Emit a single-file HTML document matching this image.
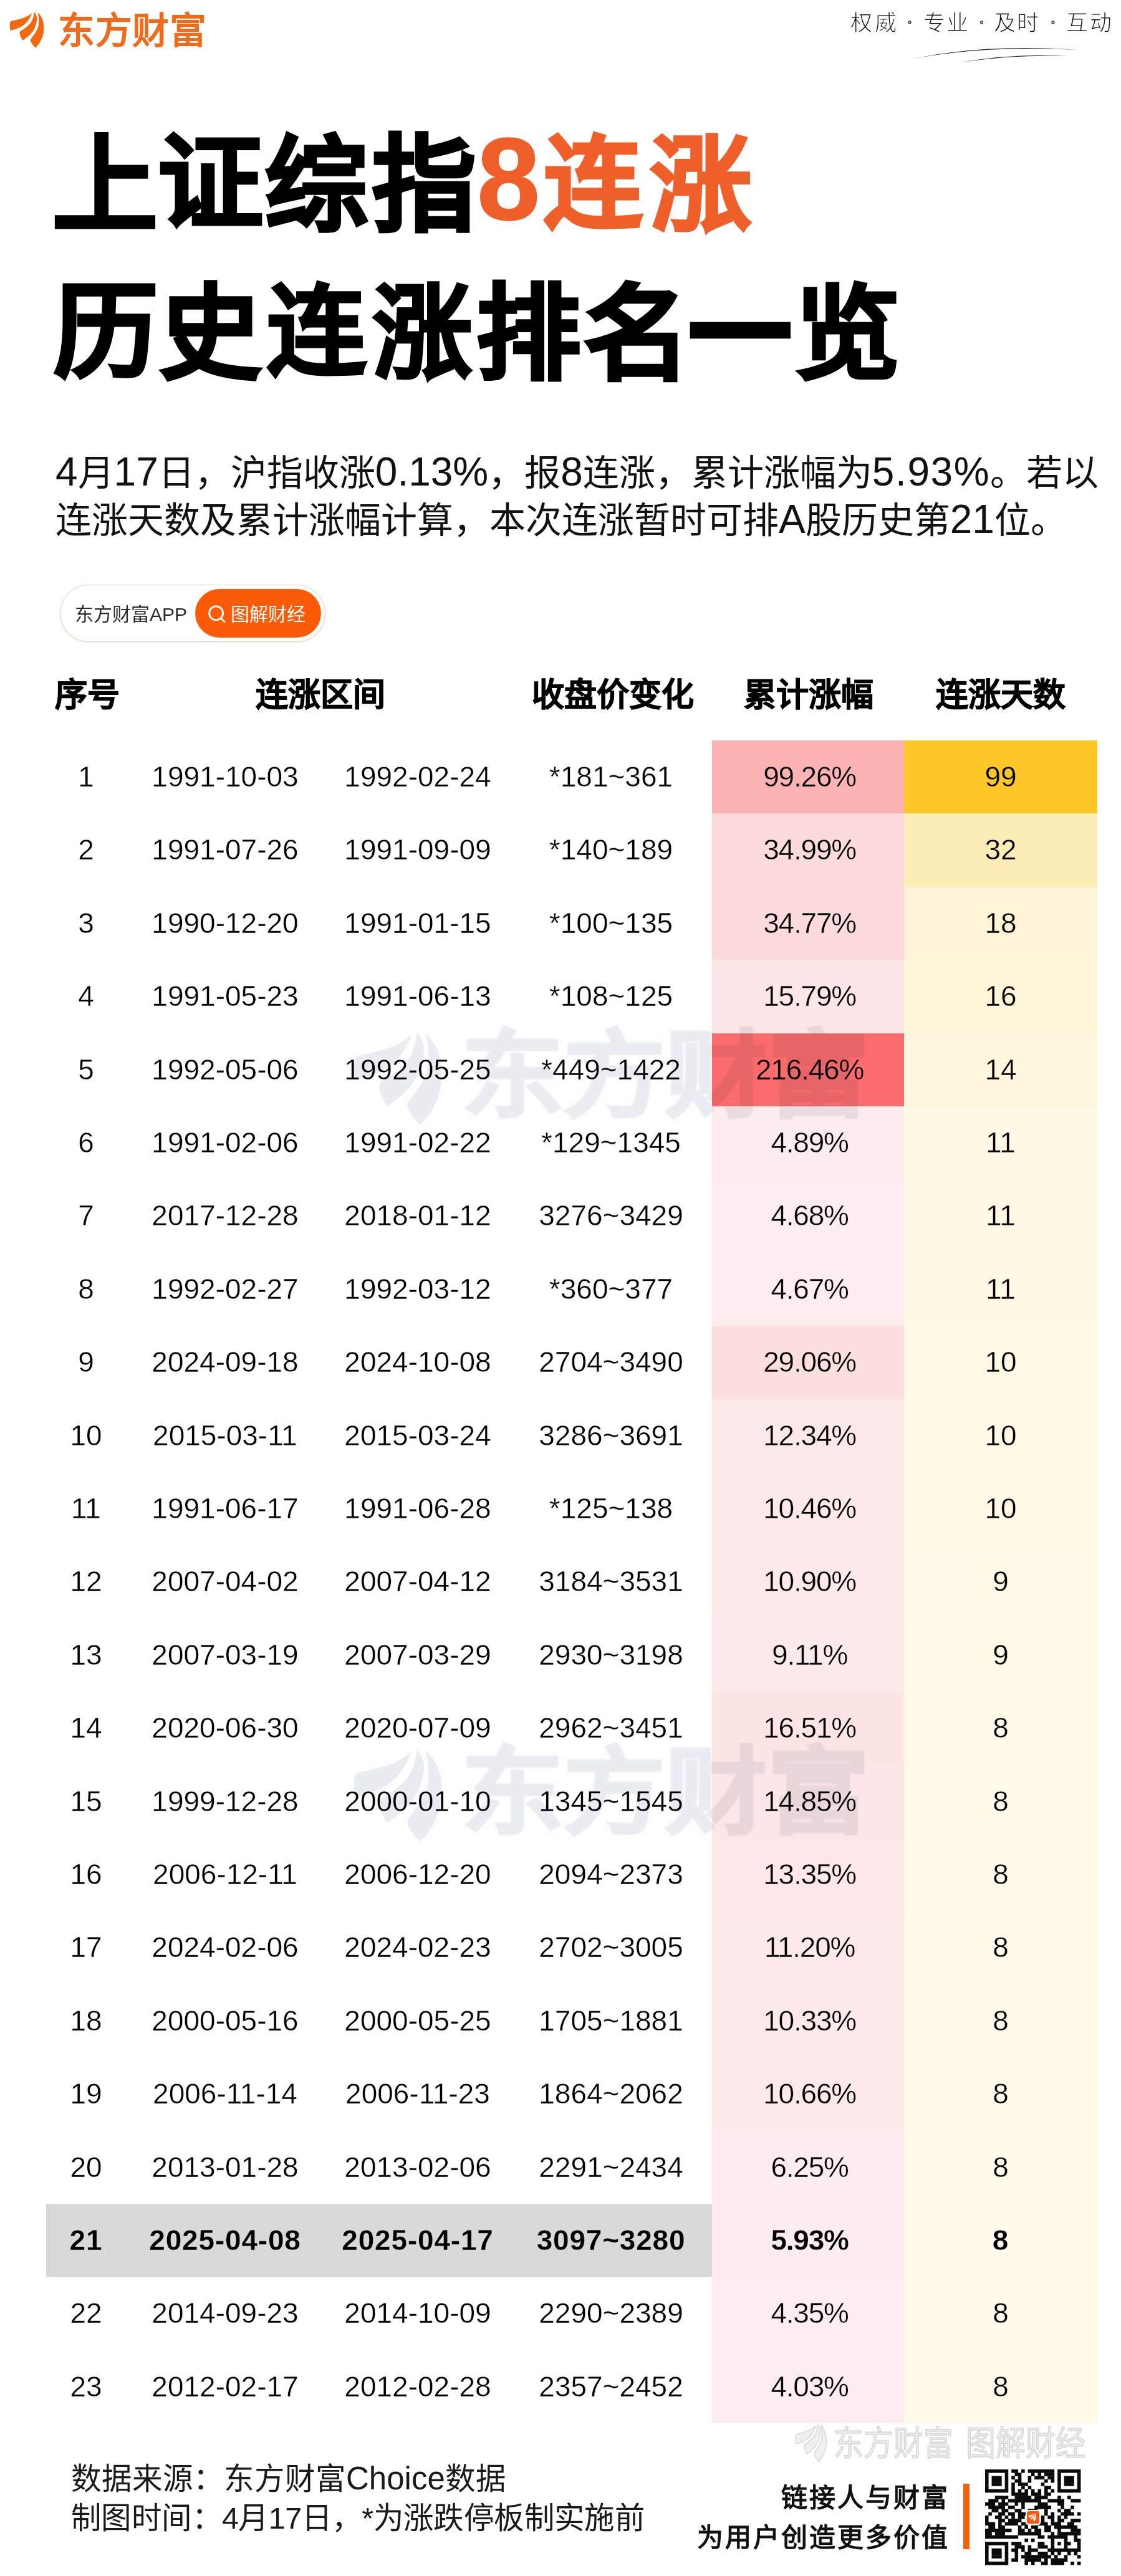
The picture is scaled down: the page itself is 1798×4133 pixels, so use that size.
<!DOCTYPE html>
<html lang="zh-CN"><head><meta charset="utf-8">
<style>
*{margin:0;padding:0;box-sizing:border-box}
html,body{width:1798px;height:4133px;overflow:hidden;background:#fefefe}
body{position:relative;font-family:"Liberation Sans",sans-serif;color:#111}
.abs{position:absolute;white-space:nowrap}
.g{position:absolute;transform-origin:0 0;font-size:100px;line-height:100px;font-weight:700;white-space:nowrap}
.para{position:absolute;left:89px;top:721px;font-size:58px;line-height:76px;color:#111;white-space:nowrap}
.para .l{font-size:64px;line-height:10px}
.hdr{position:absolute;top:1085px;font-size:52px;font-weight:700;line-height:60px;width:400px;text-align:center;-webkit-text-stroke:1px #000;color:#000}
.row{position:absolute;left:0;width:1798px;height:117.4px}
.row .pk{position:absolute;left:1142px;width:308px;top:0;height:100%}
.row .yl{position:absolute;left:1450px;width:310px;top:0;height:100%}
.row .gray{position:absolute;left:74px;width:1068px;top:0;height:100%;background:#d9d9d9}
.row .c{position:absolute;top:0;width:300px;text-align:center;line-height:117.4px;font-size:46px;color:#000}
.row.b .c{font-weight:700;letter-spacing:0.8px}
.sl{position:absolute;top:15px;font-size:35px;line-height:44px;color:#1a1a1a;width:50px;text-align:center;-webkit-text-stroke:1px #fefefe}
.wm{position:absolute;font-size:160px;line-height:160px;font-weight:700;color:#eaeef2;-webkit-text-stroke:4px #eaeef2;mix-blend-mode:multiply;transform:scale(1.02,0.95);transform-origin:0 0;white-space:nowrap;filter:blur(1.2px)}
</style></head><body>
<svg width="0" height="0" style="position:absolute">
<defs>
<g id="petals">
<path d="M41.4,10.7 C38,20 33,27 27,31 C21,35 12,38 6.8,38.9 C5.5,36 5.5,28 6.4,25.7 C7,24 8,23.8 9.3,23.6 C16,22 26,20 32,17 C36,15 39,13 41.4,10.7 Z"/>
<path d="M45,8.9 C48,13 49.5,17 49.3,21 C49,28 46,35 42.8,40 C39,46 32,51 26.4,55 C24,51 21.5,46 21.4,43 C21.5,41 22.5,40 23.6,39.3 C29,36 35,32 39,27 C42.5,22 44.5,15 45,8.9 Z"/>
<path d="M50.3,10 C55,14 58.5,20 59.5,26 C61,34 60.5,42 58.5,48 C56.5,55 51,63 47.1,66.7 C43,63 39.5,58 38.9,55 C39,53 40,51.5 41.4,50 C45,45 49,40 51,34 C53,27 52.5,17 50.3,10 Z"/>
</g>
</defs>
</svg>
<!-- logo -->
<svg class="abs" style="left:10px;top:10px" width="80" height="80" viewBox="0 0 80 80"><g fill="#f2680f"><use href="#petals"/></g></svg>
<div class="abs" style="left:93px;top:15px;font-size:59px;font-weight:700;color:#f06a1c;line-height:70px;letter-spacing:0.5px">东方财富</div>

<!-- slogan -->
<div class="sl" style="left:1356.0px">权</div>
<div class="sl" style="left:1395.0px">威</div>
<div class="sl" style="left:1473.0px">专</div>
<div class="sl" style="left:1510.0px">业</div>
<div class="sl" style="left:1586.5px">及</div>
<div class="sl" style="left:1623.5px">时</div>
<div class="sl" style="left:1702.5px">互</div>
<div class="sl" style="left:1740.5px">动</div>
<svg class="abs" style="left:1440px;top:26px" width="260" height="20" viewBox="0 0 260 20"><g stroke="#222" stroke-width="1.3" fill="none"><circle cx="19" cy="9.8" r="1.9"/><circle cx="134.6" cy="9.8" r="1.9"/><circle cx="249" cy="9.8" r="1.9"/></g></svg>
<svg class="abs" style="left:1440px;top:66px" width="320" height="44" viewBox="0 0 320 44">
<path d="M25,28 Q140,4 290,14 Q140,6.5 25,28 Z" fill="#222"/>
<path d="M100,34 Q190,19 270,24 Q190,21.5 100,34 Z" fill="#222"/>
</svg>

<div class="g" style="left:83.6px;top:212.7px;transform:scale(1.6875,1.6957);color:#000;-webkit-text-stroke:2.5px #000">上</div>
<div class="g" style="left:252.6px;top:211.0px;transform:scale(1.6907,1.6421);color:#000;-webkit-text-stroke:2.5px #000">证</div>
<div class="g" style="left:425.0px;top:215.0px;transform:scale(1.6500,1.6566);color:#000;-webkit-text-stroke:2.5px #000">综</div>
<div class="g" style="left:597.0px;top:213.4px;transform:scale(1.6633,1.6837);color:#000;-webkit-text-stroke:2.5px #000">指</div>
<div class="g" style="left:764.5px;top:192.9px;transform:scale(1.8200,1.8732);color:#ee5f29;-webkit-text-stroke:0.8px #ee5f29">8</div>
<div class="g" style="left:872.0px;top:214.8px;transform:scale(1.5784,1.6139);color:#ee5f29;-webkit-text-stroke:2.5px #ee5f29">连</div>
<div class="g" style="left:1042.6px;top:214.6px;transform:scale(1.6176,1.6465);color:#ee5f29;-webkit-text-stroke:2.5px #ee5f29">涨</div>
<div class="g" style="left:86.0px;top:450.0px;transform:scale(1.6735,1.6632);color:#000;-webkit-text-stroke:2.5px #000">历</div>
<div class="g" style="left:256.0px;top:452.3px;transform:scale(1.6275,1.6633);color:#000;-webkit-text-stroke:2.5px #000">史</div>
<div class="g" style="left:428.0px;top:453.7px;transform:scale(1.5882,1.5743);color:#000;-webkit-text-stroke:2.5px #000">连</div>
<div class="g" style="left:597.6px;top:452.6px;transform:scale(1.5882,1.6364);color:#000;-webkit-text-stroke:2.5px #000">涨</div>
<div class="g" style="left:764.3px;top:452.3px;transform:scale(1.6735,1.6735);color:#000;-webkit-text-stroke:2.5px #000">排</div>
<div class="g" style="left:936.0px;top:453.0px;transform:scale(1.7159,1.6667);color:#000;-webkit-text-stroke:2.5px #000">名</div>
<div class="g" style="left:1103.7px;top:440.8px;transform:scale(1.6598,1.9286);color:#000;-webkit-text-stroke:2.5px #000">一</div>
<div class="g" style="left:1274.3px;top:453.9px;transform:scale(1.6979,1.6400);color:#000;-webkit-text-stroke:2.5px #000">览</div>

<div class="para"><span class="l">4</span>月<span class="l">17</span>日，沪指收涨<span class="l">0.13%</span>，报<span class="l">8</span>连涨，累计涨幅为<span class="l" style="letter-spacing:1.6px">5.93%</span>。若以<br>连涨天数及累计涨幅计算，本次连涨暂时可排<span class="l">A</span>股历史第<span class="l">21</span>位。</div>

<!-- pill -->
<div class="abs" style="left:96px;top:938px;width:426px;height:92px;border-radius:46px;border:1.5px solid #e6d3bd;background:#fff;box-shadow:0 1px 3px rgba(200,170,140,0.25)"></div>
<div class="abs" style="left:120px;top:964px;font-size:30px;line-height:44px;color:#2a2a2a">东方财富APP</div>
<div class="abs" style="left:313px;top:945px;width:202px;height:78px;border-radius:39px;background:#fb5a06"></div>
<svg class="abs" style="left:331px;top:968px" width="32" height="32" viewBox="0 0 32 32"><circle cx="15.6" cy="15.7" r="11" stroke="#fff" stroke-width="2.9" fill="none"/><path d="M23.6 23.8 L29 29.6" stroke="#fff" stroke-width="2.7" stroke-linecap="round"/></svg>
<div class="abs" style="left:370px;top:964px;font-size:30px;line-height:44px;color:#fff">图解财经</div>

<div class="hdr" style="left:-60px">序号</div>
<div class="hdr" style="left:314px">连涨区间</div>
<div class="hdr" style="left:783px">收盘价变化</div>
<div class="hdr" style="left:1097px">累计涨幅</div>
<div class="hdr" style="left:1405px">连涨天数</div>

<div class="row" style="top:1188.0px">
<div class="pk" style="background:#fdb3b4"></div><div class="yl" style="background:#fdc72a"></div>
<span class="c" style="left:-12.0px;-webkit-text-stroke:0.4px #fefefe">1</span>
<span class="c" style="left:211.0px;-webkit-text-stroke:0.4px #fefefe">1991-10-03</span>
<span class="c" style="left:520.0px;-webkit-text-stroke:0.4px #fefefe">1992-02-24</span>
<span class="c" style="left:830.0px;-webkit-text-stroke:0.4px #fefefe">*181~361</span>
<span class="c" style="left:1148.6px;-webkit-text-stroke:0.4px #fdb3b4;letter-spacing:-1.2px">99.26%</span>
<span class="c" style="left:1455.0px;-webkit-text-stroke:0.4px #fdc72a">99</span>
</div>
<div class="row" style="top:1305.4px">
<div class="pk" style="background:#fddadb"></div><div class="yl" style="background:#feedb7"></div>
<span class="c" style="left:-12.0px;-webkit-text-stroke:0.4px #fefefe">2</span>
<span class="c" style="left:211.0px;-webkit-text-stroke:0.4px #fefefe">1991-07-26</span>
<span class="c" style="left:520.0px;-webkit-text-stroke:0.4px #fefefe">1991-09-09</span>
<span class="c" style="left:830.0px;-webkit-text-stroke:0.4px #fefefe">*140~189</span>
<span class="c" style="left:1148.6px;-webkit-text-stroke:0.4px #fddadb;letter-spacing:-1.2px">34.99%</span>
<span class="c" style="left:1455.0px;-webkit-text-stroke:0.4px #feedb7">32</span>
</div>
<div class="row" style="top:1422.8px">
<div class="pk" style="background:#fddadb"></div><div class="yl" style="background:#fff4d5"></div>
<span class="c" style="left:-12.0px;-webkit-text-stroke:0.4px #fefefe">3</span>
<span class="c" style="left:211.0px;-webkit-text-stroke:0.4px #fefefe">1990-12-20</span>
<span class="c" style="left:520.0px;-webkit-text-stroke:0.4px #fefefe">1991-01-15</span>
<span class="c" style="left:830.0px;-webkit-text-stroke:0.4px #fefefe">*100~135</span>
<span class="c" style="left:1148.6px;-webkit-text-stroke:0.4px #fddadb;letter-spacing:-1.2px">34.77%</span>
<span class="c" style="left:1455.0px;-webkit-text-stroke:0.4px #fff4d5">18</span>
</div>
<div class="row" style="top:1540.2px">
<div class="pk" style="background:#fde6e7"></div><div class="yl" style="background:#fff6d9"></div>
<span class="c" style="left:-12.0px;-webkit-text-stroke:0.4px #fefefe">4</span>
<span class="c" style="left:211.0px;-webkit-text-stroke:0.4px #fefefe">1991-05-23</span>
<span class="c" style="left:520.0px;-webkit-text-stroke:0.4px #fefefe">1991-06-13</span>
<span class="c" style="left:830.0px;-webkit-text-stroke:0.4px #fefefe">*108~125</span>
<span class="c" style="left:1148.6px;-webkit-text-stroke:0.4px #fde6e7;letter-spacing:-1.2px">15.79%</span>
<span class="c" style="left:1455.0px;-webkit-text-stroke:0.4px #fff6d9">16</span>
</div>
<div class="row" style="top:1657.6px">
<div class="pk" style="background:#fc6c6c"></div><div class="yl" style="background:#fff7dd"></div>
<span class="c" style="left:-12.0px;-webkit-text-stroke:0.4px #fefefe">5</span>
<span class="c" style="left:211.0px;-webkit-text-stroke:0.4px #fefefe">1992-05-06</span>
<span class="c" style="left:520.0px;-webkit-text-stroke:0.4px #fefefe">1992-05-25</span>
<span class="c" style="left:830.0px;-webkit-text-stroke:0.4px #fefefe">*449~1422</span>
<span class="c" style="left:1148.6px;-webkit-text-stroke:0.4px #fc6c6c;letter-spacing:-1.2px">216.46%</span>
<span class="c" style="left:1455.0px;-webkit-text-stroke:0.4px #fff7dd">14</span>
</div>
<div class="row" style="top:1775.0px">
<div class="pk" style="background:#fdeced"></div><div class="yl" style="background:#fff8e4"></div>
<span class="c" style="left:-12.0px;-webkit-text-stroke:0.4px #fefefe">6</span>
<span class="c" style="left:211.0px;-webkit-text-stroke:0.4px #fefefe">1991-02-06</span>
<span class="c" style="left:520.0px;-webkit-text-stroke:0.4px #fefefe">1991-02-22</span>
<span class="c" style="left:830.0px;-webkit-text-stroke:0.4px #fefefe">*129~1345</span>
<span class="c" style="left:1148.6px;-webkit-text-stroke:0.4px #fdeced;letter-spacing:-1.2px">4.89%</span>
<span class="c" style="left:1455.0px;-webkit-text-stroke:0.4px #fff8e4">11</span>
</div>
<div class="row" style="top:1892.4px">
<div class="pk" style="background:#fdedee"></div><div class="yl" style="background:#fff8e4"></div>
<span class="c" style="left:-12.0px;-webkit-text-stroke:0.4px #fefefe">7</span>
<span class="c" style="left:211.0px;-webkit-text-stroke:0.4px #fefefe">2017-12-28</span>
<span class="c" style="left:520.0px;-webkit-text-stroke:0.4px #fefefe">2018-01-12</span>
<span class="c" style="left:830.0px;-webkit-text-stroke:0.4px #fefefe">3276~3429</span>
<span class="c" style="left:1148.6px;-webkit-text-stroke:0.4px #fdedee;letter-spacing:-1.2px">4.68%</span>
<span class="c" style="left:1455.0px;-webkit-text-stroke:0.4px #fff8e4">11</span>
</div>
<div class="row" style="top:2009.8px">
<div class="pk" style="background:#fdedee"></div><div class="yl" style="background:#fff8e4"></div>
<span class="c" style="left:-12.0px;-webkit-text-stroke:0.4px #fefefe">8</span>
<span class="c" style="left:211.0px;-webkit-text-stroke:0.4px #fefefe">1992-02-27</span>
<span class="c" style="left:520.0px;-webkit-text-stroke:0.4px #fefefe">1992-03-12</span>
<span class="c" style="left:830.0px;-webkit-text-stroke:0.4px #fefefe">*360~377</span>
<span class="c" style="left:1148.6px;-webkit-text-stroke:0.4px #fdedee;letter-spacing:-1.2px">4.67%</span>
<span class="c" style="left:1455.0px;-webkit-text-stroke:0.4px #fff8e4">11</span>
</div>
<div class="row" style="top:2127.2px">
<div class="pk" style="background:#fddedf"></div><div class="yl" style="background:#fff9e6"></div>
<span class="c" style="left:-12.0px;-webkit-text-stroke:0.4px #fefefe">9</span>
<span class="c" style="left:211.0px;-webkit-text-stroke:0.4px #fefefe">2024-09-18</span>
<span class="c" style="left:520.0px;-webkit-text-stroke:0.4px #fefefe">2024-10-08</span>
<span class="c" style="left:830.0px;-webkit-text-stroke:0.4px #fefefe">2704~3490</span>
<span class="c" style="left:1148.6px;-webkit-text-stroke:0.4px #fddedf;letter-spacing:-1.2px">29.06%</span>
<span class="c" style="left:1455.0px;-webkit-text-stroke:0.4px #fff9e6">10</span>
</div>
<div class="row" style="top:2244.6px">
<div class="pk" style="background:#fde8e9"></div><div class="yl" style="background:#fff9e6"></div>
<span class="c" style="left:-12.0px;-webkit-text-stroke:0.4px #fefefe">10</span>
<span class="c" style="left:211.0px;-webkit-text-stroke:0.4px #fefefe">2015-03-11</span>
<span class="c" style="left:520.0px;-webkit-text-stroke:0.4px #fefefe">2015-03-24</span>
<span class="c" style="left:830.0px;-webkit-text-stroke:0.4px #fefefe">3286~3691</span>
<span class="c" style="left:1148.6px;-webkit-text-stroke:0.4px #fde8e9;letter-spacing:-1.2px">12.34%</span>
<span class="c" style="left:1455.0px;-webkit-text-stroke:0.4px #fff9e6">10</span>
</div>
<div class="row" style="top:2362.0px">
<div class="pk" style="background:#fde9ea"></div><div class="yl" style="background:#fff9e6"></div>
<span class="c" style="left:-12.0px;-webkit-text-stroke:0.4px #fefefe">11</span>
<span class="c" style="left:211.0px;-webkit-text-stroke:0.4px #fefefe">1991-06-17</span>
<span class="c" style="left:520.0px;-webkit-text-stroke:0.4px #fefefe">1991-06-28</span>
<span class="c" style="left:830.0px;-webkit-text-stroke:0.4px #fefefe">*125~138</span>
<span class="c" style="left:1148.6px;-webkit-text-stroke:0.4px #fde9ea;letter-spacing:-1.2px">10.46%</span>
<span class="c" style="left:1455.0px;-webkit-text-stroke:0.4px #fff9e6">10</span>
</div>
<div class="row" style="top:2479.4px">
<div class="pk" style="background:#fde9ea"></div><div class="yl" style="background:#fff9e8"></div>
<span class="c" style="left:-12.0px;-webkit-text-stroke:0.4px #fefefe">12</span>
<span class="c" style="left:211.0px;-webkit-text-stroke:0.4px #fefefe">2007-04-02</span>
<span class="c" style="left:520.0px;-webkit-text-stroke:0.4px #fefefe">2007-04-12</span>
<span class="c" style="left:830.0px;-webkit-text-stroke:0.4px #fefefe">3184~3531</span>
<span class="c" style="left:1148.6px;-webkit-text-stroke:0.4px #fde9ea;letter-spacing:-1.2px">10.90%</span>
<span class="c" style="left:1455.0px;-webkit-text-stroke:0.4px #fff9e8">9</span>
</div>
<div class="row" style="top:2596.8px">
<div class="pk" style="background:#fdeaeb"></div><div class="yl" style="background:#fff9e8"></div>
<span class="c" style="left:-12.0px;-webkit-text-stroke:0.4px #fefefe">13</span>
<span class="c" style="left:211.0px;-webkit-text-stroke:0.4px #fefefe">2007-03-19</span>
<span class="c" style="left:520.0px;-webkit-text-stroke:0.4px #fefefe">2007-03-29</span>
<span class="c" style="left:830.0px;-webkit-text-stroke:0.4px #fefefe">2930~3198</span>
<span class="c" style="left:1148.6px;-webkit-text-stroke:0.4px #fdeaeb;letter-spacing:-1.2px">9.11%</span>
<span class="c" style="left:1455.0px;-webkit-text-stroke:0.4px #fff9e8">9</span>
</div>
<div class="row" style="top:2714.2px">
<div class="pk" style="background:#fde5e6"></div><div class="yl" style="background:#fffaea"></div>
<span class="c" style="left:-12.0px;-webkit-text-stroke:0.4px #fefefe">14</span>
<span class="c" style="left:211.0px;-webkit-text-stroke:0.4px #fefefe">2020-06-30</span>
<span class="c" style="left:520.0px;-webkit-text-stroke:0.4px #fefefe">2020-07-09</span>
<span class="c" style="left:830.0px;-webkit-text-stroke:0.4px #fefefe">2962~3451</span>
<span class="c" style="left:1148.6px;-webkit-text-stroke:0.4px #fde5e6;letter-spacing:-1.2px">16.51%</span>
<span class="c" style="left:1455.0px;-webkit-text-stroke:0.4px #fffaea">8</span>
</div>
<div class="row" style="top:2831.6px">
<div class="pk" style="background:#fde6e7"></div><div class="yl" style="background:#fffaea"></div>
<span class="c" style="left:-12.0px;-webkit-text-stroke:0.4px #fefefe">15</span>
<span class="c" style="left:211.0px;-webkit-text-stroke:0.4px #fefefe">1999-12-28</span>
<span class="c" style="left:520.0px;-webkit-text-stroke:0.4px #fefefe">2000-01-10</span>
<span class="c" style="left:830.0px;-webkit-text-stroke:0.4px #fefefe">1345~1545</span>
<span class="c" style="left:1148.6px;-webkit-text-stroke:0.4px #fde6e7;letter-spacing:-1.2px">14.85%</span>
<span class="c" style="left:1455.0px;-webkit-text-stroke:0.4px #fffaea">8</span>
</div>
<div class="row" style="top:2949.0px">
<div class="pk" style="background:#fde7e8"></div><div class="yl" style="background:#fffaea"></div>
<span class="c" style="left:-12.0px;-webkit-text-stroke:0.4px #fefefe">16</span>
<span class="c" style="left:211.0px;-webkit-text-stroke:0.4px #fefefe">2006-12-11</span>
<span class="c" style="left:520.0px;-webkit-text-stroke:0.4px #fefefe">2006-12-20</span>
<span class="c" style="left:830.0px;-webkit-text-stroke:0.4px #fefefe">2094~2373</span>
<span class="c" style="left:1148.6px;-webkit-text-stroke:0.4px #fde7e8;letter-spacing:-1.2px">13.35%</span>
<span class="c" style="left:1455.0px;-webkit-text-stroke:0.4px #fffaea">8</span>
</div>
<div class="row" style="top:3066.4px">
<div class="pk" style="background:#fde9ea"></div><div class="yl" style="background:#fffaea"></div>
<span class="c" style="left:-12.0px;-webkit-text-stroke:0.4px #fefefe">17</span>
<span class="c" style="left:211.0px;-webkit-text-stroke:0.4px #fefefe">2024-02-06</span>
<span class="c" style="left:520.0px;-webkit-text-stroke:0.4px #fefefe">2024-02-23</span>
<span class="c" style="left:830.0px;-webkit-text-stroke:0.4px #fefefe">2702~3005</span>
<span class="c" style="left:1148.6px;-webkit-text-stroke:0.4px #fde9ea;letter-spacing:-1.2px">11.20%</span>
<span class="c" style="left:1455.0px;-webkit-text-stroke:0.4px #fffaea">8</span>
</div>
<div class="row" style="top:3183.8px">
<div class="pk" style="background:#fde9ea"></div><div class="yl" style="background:#fffaea"></div>
<span class="c" style="left:-12.0px;-webkit-text-stroke:0.4px #fefefe">18</span>
<span class="c" style="left:211.0px;-webkit-text-stroke:0.4px #fefefe">2000-05-16</span>
<span class="c" style="left:520.0px;-webkit-text-stroke:0.4px #fefefe">2000-05-25</span>
<span class="c" style="left:830.0px;-webkit-text-stroke:0.4px #fefefe">1705~1881</span>
<span class="c" style="left:1148.6px;-webkit-text-stroke:0.4px #fde9ea;letter-spacing:-1.2px">10.33%</span>
<span class="c" style="left:1455.0px;-webkit-text-stroke:0.4px #fffaea">8</span>
</div>
<div class="row" style="top:3301.2px">
<div class="pk" style="background:#fde9ea"></div><div class="yl" style="background:#fffaea"></div>
<span class="c" style="left:-12.0px;-webkit-text-stroke:0.4px #fefefe">19</span>
<span class="c" style="left:211.0px;-webkit-text-stroke:0.4px #fefefe">2006-11-14</span>
<span class="c" style="left:520.0px;-webkit-text-stroke:0.4px #fefefe">2006-11-23</span>
<span class="c" style="left:830.0px;-webkit-text-stroke:0.4px #fefefe">1864~2062</span>
<span class="c" style="left:1148.6px;-webkit-text-stroke:0.4px #fde9ea;letter-spacing:-1.2px">10.66%</span>
<span class="c" style="left:1455.0px;-webkit-text-stroke:0.4px #fffaea">8</span>
</div>
<div class="row" style="top:3418.6px">
<div class="pk" style="background:#fdeced"></div><div class="yl" style="background:#fffaea"></div>
<span class="c" style="left:-12.0px;-webkit-text-stroke:0.4px #fefefe">20</span>
<span class="c" style="left:211.0px;-webkit-text-stroke:0.4px #fefefe">2013-01-28</span>
<span class="c" style="left:520.0px;-webkit-text-stroke:0.4px #fefefe">2013-02-06</span>
<span class="c" style="left:830.0px;-webkit-text-stroke:0.4px #fefefe">2291~2434</span>
<span class="c" style="left:1148.6px;-webkit-text-stroke:0.4px #fdeced;letter-spacing:-1.2px">6.25%</span>
<span class="c" style="left:1455.0px;-webkit-text-stroke:0.4px #fffaea">8</span>
</div>
<div class="row b" style="top:3536.0px">
<div class="gray"></div>
<div class="pk" style="background:#fdeced"></div><div class="yl" style="background:#fffaea"></div>
<span class="c" style="left:-12.0px;-webkit-text-stroke:0.3px #d9d9d9">21</span>
<span class="c" style="left:211.0px;-webkit-text-stroke:0.3px #d9d9d9">2025-04-08</span>
<span class="c" style="left:520.0px;-webkit-text-stroke:0.3px #d9d9d9">2025-04-17</span>
<span class="c" style="left:830.0px;-webkit-text-stroke:0.3px #d9d9d9">3097~3280</span>
<span class="c" style="left:1148.6px;-webkit-text-stroke:0.3px #fdeced;letter-spacing:-1.2px">5.93%</span>
<span class="c" style="left:1455.0px;-webkit-text-stroke:0.3px #fffaea">8</span>
</div>
<div class="row" style="top:3653.4px">
<div class="pk" style="background:#fdedee"></div><div class="yl" style="background:#fffaea"></div>
<span class="c" style="left:-12.0px;-webkit-text-stroke:0.4px #fefefe">22</span>
<span class="c" style="left:211.0px;-webkit-text-stroke:0.4px #fefefe">2014-09-23</span>
<span class="c" style="left:520.0px;-webkit-text-stroke:0.4px #fefefe">2014-10-09</span>
<span class="c" style="left:830.0px;-webkit-text-stroke:0.4px #fefefe">2290~2389</span>
<span class="c" style="left:1148.6px;-webkit-text-stroke:0.4px #fdedee;letter-spacing:-1.2px">4.35%</span>
<span class="c" style="left:1455.0px;-webkit-text-stroke:0.4px #fffaea">8</span>
</div>
<div class="row" style="top:3770.8px">
<div class="pk" style="background:#fdedee"></div><div class="yl" style="background:#fffaea"></div>
<span class="c" style="left:-12.0px;-webkit-text-stroke:0.4px #fefefe">23</span>
<span class="c" style="left:211.0px;-webkit-text-stroke:0.4px #fefefe">2012-02-17</span>
<span class="c" style="left:520.0px;-webkit-text-stroke:0.4px #fefefe">2012-02-28</span>
<span class="c" style="left:830.0px;-webkit-text-stroke:0.4px #fefefe">2357~2452</span>
<span class="c" style="left:1148.6px;-webkit-text-stroke:0.4px #fdedee;letter-spacing:-1.2px">4.03%</span>
<span class="c" style="left:1455.0px;-webkit-text-stroke:0.4px #fffaea">8</span>
</div>

<!-- table watermarks -->
<svg class="abs" style="left:553px;top:1633px;mix-blend-mode:multiply" width="206" height="206" viewBox="0 0 80 80"><g fill="#eaeef2"><use href="#petals"/></g></svg>
<div class="wm" style="left:741px;top:1651px">东方财富</div>
<svg class="abs" style="left:553px;top:2783px;mix-blend-mode:multiply" width="206" height="206" viewBox="0 0 80 80"><g fill="#eaeef2"><use href="#petals"/></g></svg>
<div class="wm" style="left:741px;top:2801px">东方财富</div>

<!-- footer watermark -->
<svg class="abs" style="left:1271px;top:3881px" width="72" height="82" viewBox="0 0 80 80" preserveAspectRatio="none"><g fill="#efefef" stroke="#cdcdcd" stroke-width="1.1"><use href="#petals"/></g></svg>
<div class="abs" style="left:1337px;top:3888px;font-size:55px;line-height:64px;color:#ececec;-webkit-text-stroke:1px #c9c9c9;transform:scaleX(0.87);transform-origin:0 0">东方财富</div>
<div class="abs" style="left:1549px;top:3888px;font-size:55px;line-height:64px;color:#ececec;-webkit-text-stroke:1px #c9c9c9;transform:scaleX(0.87);transform-origin:0 0">图解财经</div>

<!-- footer -->
<div class="abs" style="left:114px;top:3946px;font-size:48.5px;line-height:63px;color:#1a1a1a">数据来源：东方财富<span style="font-size:51px;line-height:10px">Choice</span>数据<br><span style="letter-spacing:-0.6px">制图时间：4月17日，*为涨跌停板制实施前</span></div>
<div class="abs" style="left:1023px;top:3976px;width:500px;text-align:right;font-size:42px;line-height:64px;font-weight:700;color:#111;letter-spacing:3px;margin-right:-3px">链接人与财富<br>为用户创造更多价值</div>
<div class="abs" style="left:1545px;top:3985px;width:10px;height:105px;background:#f5620f"></div>
<svg class="abs" style="left:1580px;top:3962px" width="154" height="154" viewBox="0 0 154 154"><g fill="#0a0a0a"><rect x="0.00" y="0.00" width="37.26" height="5.58"/><rect x="42.24" y="0.00" width="10.86" height="5.58"/><rect x="58.08" y="0.00" width="5.58" height="5.58"/><rect x="68.64" y="0.00" width="42.54" height="5.58"/><rect x="116.16" y="0.00" width="37.26" height="5.58"/><rect x="0.00" y="5.28" width="5.58" height="5.58"/><rect x="31.68" y="5.28" width="5.58" height="5.58"/><rect x="47.52" y="5.28" width="10.86" height="5.58"/><rect x="73.92" y="5.28" width="5.58" height="5.58"/><rect x="84.48" y="5.28" width="5.58" height="5.58"/><rect x="95.04" y="5.28" width="16.14" height="5.58"/><rect x="116.16" y="5.28" width="5.58" height="5.58"/><rect x="147.84" y="5.28" width="5.58" height="5.58"/><rect x="0.00" y="10.56" width="5.58" height="5.58"/><rect x="10.56" y="10.56" width="16.14" height="5.58"/><rect x="31.68" y="10.56" width="5.58" height="5.58"/><rect x="42.24" y="10.56" width="5.58" height="5.58"/><rect x="52.80" y="10.56" width="5.58" height="5.58"/><rect x="68.64" y="10.56" width="5.58" height="5.58"/><rect x="79.20" y="10.56" width="16.14" height="5.58"/><rect x="100.32" y="10.56" width="10.86" height="5.58"/><rect x="116.16" y="10.56" width="5.58" height="5.58"/><rect x="126.72" y="10.56" width="16.14" height="5.58"/><rect x="147.84" y="10.56" width="5.58" height="5.58"/><rect x="0.00" y="15.84" width="5.58" height="5.58"/><rect x="10.56" y="15.84" width="16.14" height="5.58"/><rect x="31.68" y="15.84" width="5.58" height="5.58"/><rect x="47.52" y="15.84" width="10.86" height="5.58"/><rect x="68.64" y="15.84" width="5.58" height="5.58"/><rect x="95.04" y="15.84" width="5.58" height="5.58"/><rect x="105.60" y="15.84" width="5.58" height="5.58"/><rect x="116.16" y="15.84" width="5.58" height="5.58"/><rect x="126.72" y="15.84" width="16.14" height="5.58"/><rect x="147.84" y="15.84" width="5.58" height="5.58"/><rect x="0.00" y="21.12" width="5.58" height="5.58"/><rect x="10.56" y="21.12" width="16.14" height="5.58"/><rect x="31.68" y="21.12" width="5.58" height="5.58"/><rect x="42.24" y="21.12" width="5.58" height="5.58"/><rect x="52.80" y="21.12" width="16.14" height="5.58"/><rect x="89.76" y="21.12" width="5.58" height="5.58"/><rect x="116.16" y="21.12" width="5.58" height="5.58"/><rect x="126.72" y="21.12" width="16.14" height="5.58"/><rect x="147.84" y="21.12" width="5.58" height="5.58"/><rect x="0.00" y="26.40" width="5.58" height="5.58"/><rect x="31.68" y="26.40" width="5.58" height="5.58"/><rect x="42.24" y="26.40" width="5.58" height="5.58"/><rect x="58.08" y="26.40" width="5.58" height="5.58"/><rect x="68.64" y="26.40" width="5.58" height="5.58"/><rect x="95.04" y="26.40" width="10.86" height="5.58"/><rect x="116.16" y="26.40" width="5.58" height="5.58"/><rect x="147.84" y="26.40" width="5.58" height="5.58"/><rect x="0.00" y="31.68" width="37.26" height="5.58"/><rect x="42.24" y="31.68" width="5.58" height="5.58"/><rect x="52.80" y="31.68" width="5.58" height="5.58"/><rect x="63.36" y="31.68" width="5.58" height="5.58"/><rect x="73.92" y="31.68" width="5.58" height="5.58"/><rect x="84.48" y="31.68" width="5.58" height="5.58"/><rect x="95.04" y="31.68" width="5.58" height="5.58"/><rect x="105.60" y="31.68" width="5.58" height="5.58"/><rect x="116.16" y="31.68" width="37.26" height="5.58"/><rect x="42.24" y="36.96" width="26.70" height="5.58"/><rect x="73.92" y="36.96" width="16.14" height="5.58"/><rect x="95.04" y="36.96" width="10.86" height="5.58"/><rect x="15.84" y="42.24" width="21.42" height="5.58"/><rect x="47.52" y="42.24" width="26.70" height="5.58"/><rect x="79.20" y="42.24" width="21.42" height="5.58"/><rect x="116.16" y="42.24" width="5.58" height="5.58"/><rect x="132.00" y="42.24" width="5.58" height="5.58"/><rect x="5.28" y="47.52" width="16.14" height="5.58"/><rect x="26.40" y="47.52" width="5.58" height="5.58"/><rect x="36.96" y="47.52" width="53.10" height="5.58"/><rect x="100.32" y="47.52" width="26.70" height="5.58"/><rect x="137.28" y="47.52" width="16.14" height="5.58"/><rect x="0.00" y="52.80" width="16.14" height="5.58"/><rect x="21.12" y="52.80" width="16.14" height="5.58"/><rect x="47.52" y="52.80" width="5.58" height="5.58"/><rect x="58.08" y="52.80" width="5.58" height="5.58"/><rect x="84.48" y="52.80" width="16.14" height="5.58"/><rect x="116.16" y="52.80" width="10.86" height="5.58"/><rect x="5.28" y="58.08" width="26.70" height="5.58"/><rect x="36.96" y="58.08" width="10.86" height="5.58"/><rect x="58.08" y="58.08" width="5.58" height="5.58"/><rect x="79.20" y="58.08" width="26.70" height="5.58"/><rect x="121.44" y="58.08" width="5.58" height="5.58"/><rect x="137.28" y="58.08" width="5.58" height="5.58"/><rect x="10.56" y="63.36" width="10.86" height="5.58"/><rect x="26.40" y="63.36" width="10.86" height="5.58"/><rect x="47.52" y="63.36" width="10.86" height="5.58"/><rect x="68.64" y="63.36" width="16.14" height="5.58"/><rect x="95.04" y="63.36" width="5.58" height="5.58"/><rect x="116.16" y="63.36" width="5.58" height="5.58"/><rect x="126.72" y="63.36" width="10.86" height="5.58"/><rect x="5.28" y="68.64" width="5.58" height="5.58"/><rect x="21.12" y="68.64" width="10.86" height="5.58"/><rect x="36.96" y="68.64" width="10.86" height="5.58"/><rect x="52.80" y="68.64" width="16.14" height="5.58"/><rect x="73.92" y="68.64" width="10.86" height="5.58"/><rect x="95.04" y="68.64" width="5.58" height="5.58"/><rect x="105.60" y="68.64" width="5.58" height="5.58"/><rect x="121.44" y="68.64" width="21.42" height="5.58"/><rect x="147.84" y="68.64" width="5.58" height="5.58"/><rect x="0.00" y="73.92" width="5.58" height="5.58"/><rect x="15.84" y="73.92" width="10.86" height="5.58"/><rect x="31.68" y="73.92" width="5.58" height="5.58"/><rect x="42.24" y="73.92" width="5.58" height="5.58"/><rect x="52.80" y="73.92" width="10.86" height="5.58"/><rect x="68.64" y="73.92" width="5.58" height="5.58"/><rect x="89.76" y="73.92" width="5.58" height="5.58"/><rect x="100.32" y="73.92" width="10.86" height="5.58"/><rect x="116.16" y="73.92" width="5.58" height="5.58"/><rect x="126.72" y="73.92" width="5.58" height="5.58"/><rect x="0.00" y="79.20" width="5.58" height="5.58"/><rect x="21.12" y="79.20" width="10.86" height="5.58"/><rect x="36.96" y="79.20" width="21.42" height="5.58"/><rect x="73.92" y="79.20" width="5.58" height="5.58"/><rect x="89.76" y="79.20" width="5.58" height="5.58"/><rect x="105.60" y="79.20" width="5.58" height="5.58"/><rect x="116.16" y="79.20" width="10.86" height="5.58"/><rect x="137.28" y="79.20" width="16.14" height="5.58"/><rect x="0.00" y="84.48" width="16.14" height="5.58"/><rect x="21.12" y="84.48" width="5.58" height="5.58"/><rect x="31.68" y="84.48" width="21.42" height="5.58"/><rect x="58.08" y="84.48" width="10.86" height="5.58"/><rect x="84.48" y="84.48" width="16.14" height="5.58"/><rect x="105.60" y="84.48" width="16.14" height="5.58"/><rect x="132.00" y="84.48" width="10.86" height="5.58"/><rect x="5.28" y="89.76" width="10.86" height="5.58"/><rect x="21.12" y="89.76" width="10.86" height="5.58"/><rect x="52.80" y="89.76" width="5.58" height="5.58"/><rect x="63.36" y="89.76" width="5.58" height="5.58"/><rect x="73.92" y="89.76" width="10.86" height="5.58"/><rect x="95.04" y="89.76" width="10.86" height="5.58"/><rect x="110.88" y="89.76" width="37.26" height="5.58"/><rect x="0.00" y="95.04" width="42.54" height="5.58"/><rect x="52.80" y="95.04" width="10.86" height="5.58"/><rect x="68.64" y="95.04" width="5.58" height="5.58"/><rect x="79.20" y="95.04" width="10.86" height="5.58"/><rect x="95.04" y="95.04" width="10.86" height="5.58"/><rect x="116.16" y="95.04" width="5.58" height="5.58"/><rect x="137.28" y="95.04" width="16.14" height="5.58"/><rect x="0.00" y="100.32" width="10.86" height="5.58"/><rect x="15.84" y="100.32" width="16.14" height="5.58"/><rect x="52.80" y="100.32" width="37.26" height="5.58"/><rect x="105.60" y="100.32" width="5.58" height="5.58"/><rect x="116.16" y="100.32" width="37.26" height="5.58"/><rect x="0.00" y="105.60" width="53.10" height="5.58"/><rect x="84.48" y="105.60" width="10.86" height="5.58"/><rect x="100.32" y="105.60" width="31.98" height="5.58"/><rect x="142.56" y="105.60" width="5.58" height="5.58"/><rect x="63.36" y="110.88" width="5.58" height="5.58"/><rect x="73.92" y="110.88" width="5.58" height="5.58"/><rect x="105.60" y="110.88" width="5.58" height="5.58"/><rect x="126.72" y="110.88" width="5.58" height="5.58"/><rect x="142.56" y="110.88" width="10.86" height="5.58"/><rect x="0.00" y="116.16" width="37.26" height="5.58"/><rect x="42.24" y="116.16" width="16.14" height="5.58"/><rect x="84.48" y="116.16" width="10.86" height="5.58"/><rect x="105.60" y="116.16" width="5.58" height="5.58"/><rect x="116.16" y="116.16" width="5.58" height="5.58"/><rect x="126.72" y="116.16" width="10.86" height="5.58"/><rect x="147.84" y="116.16" width="5.58" height="5.58"/><rect x="0.00" y="121.44" width="5.58" height="5.58"/><rect x="31.68" y="121.44" width="5.58" height="5.58"/><rect x="47.52" y="121.44" width="16.14" height="5.58"/><rect x="68.64" y="121.44" width="5.58" height="5.58"/><rect x="84.48" y="121.44" width="16.14" height="5.58"/><rect x="105.60" y="121.44" width="5.58" height="5.58"/><rect x="126.72" y="121.44" width="5.58" height="5.58"/><rect x="147.84" y="121.44" width="5.58" height="5.58"/><rect x="0.00" y="126.72" width="5.58" height="5.58"/><rect x="10.56" y="126.72" width="16.14" height="5.58"/><rect x="31.68" y="126.72" width="5.58" height="5.58"/><rect x="42.24" y="126.72" width="10.86" height="5.58"/><rect x="58.08" y="126.72" width="5.58" height="5.58"/><rect x="68.64" y="126.72" width="16.14" height="5.58"/><rect x="100.32" y="126.72" width="53.10" height="5.58"/><rect x="0.00" y="132.00" width="5.58" height="5.58"/><rect x="10.56" y="132.00" width="16.14" height="5.58"/><rect x="31.68" y="132.00" width="5.58" height="5.58"/><rect x="47.52" y="132.00" width="5.58" height="5.58"/><rect x="63.36" y="132.00" width="10.86" height="5.58"/><rect x="84.48" y="132.00" width="16.14" height="5.58"/><rect x="105.60" y="132.00" width="5.58" height="5.58"/><rect x="116.16" y="132.00" width="5.58" height="5.58"/><rect x="132.00" y="132.00" width="5.58" height="5.58"/><rect x="142.56" y="132.00" width="5.58" height="5.58"/><rect x="0.00" y="137.28" width="5.58" height="5.58"/><rect x="10.56" y="137.28" width="16.14" height="5.58"/><rect x="31.68" y="137.28" width="5.58" height="5.58"/><rect x="47.52" y="137.28" width="5.58" height="5.58"/><rect x="58.08" y="137.28" width="47.82" height="5.58"/><rect x="110.88" y="137.28" width="5.58" height="5.58"/><rect x="126.72" y="137.28" width="5.58" height="5.58"/><rect x="147.84" y="137.28" width="5.58" height="5.58"/><rect x="0.00" y="142.56" width="5.58" height="5.58"/><rect x="31.68" y="142.56" width="5.58" height="5.58"/><rect x="42.24" y="142.56" width="10.86" height="5.58"/><rect x="63.36" y="142.56" width="26.70" height="5.58"/><rect x="95.04" y="142.56" width="5.58" height="5.58"/><rect x="105.60" y="142.56" width="26.70" height="5.58"/><rect x="0.00" y="147.84" width="37.26" height="5.58"/><rect x="63.36" y="147.84" width="5.58" height="5.58"/><rect x="73.92" y="147.84" width="5.58" height="5.58"/><rect x="89.76" y="147.84" width="10.86" height="5.58"/><rect x="105.60" y="147.84" width="21.42" height="5.58"/><rect x="137.28" y="147.84" width="5.58" height="5.58"/><rect x="147.84" y="147.84" width="5.58" height="5.58"/></g><rect x="65" y="65" width="24" height="24" rx="4" fill="#fff"/><rect x="67" y="67" width="20" height="20" rx="3" fill="#f25a14"/><g transform="translate(68.5,68.5) scale(0.22)" fill="#fff"><use href="#petals"/></g></svg>
</body></html>
